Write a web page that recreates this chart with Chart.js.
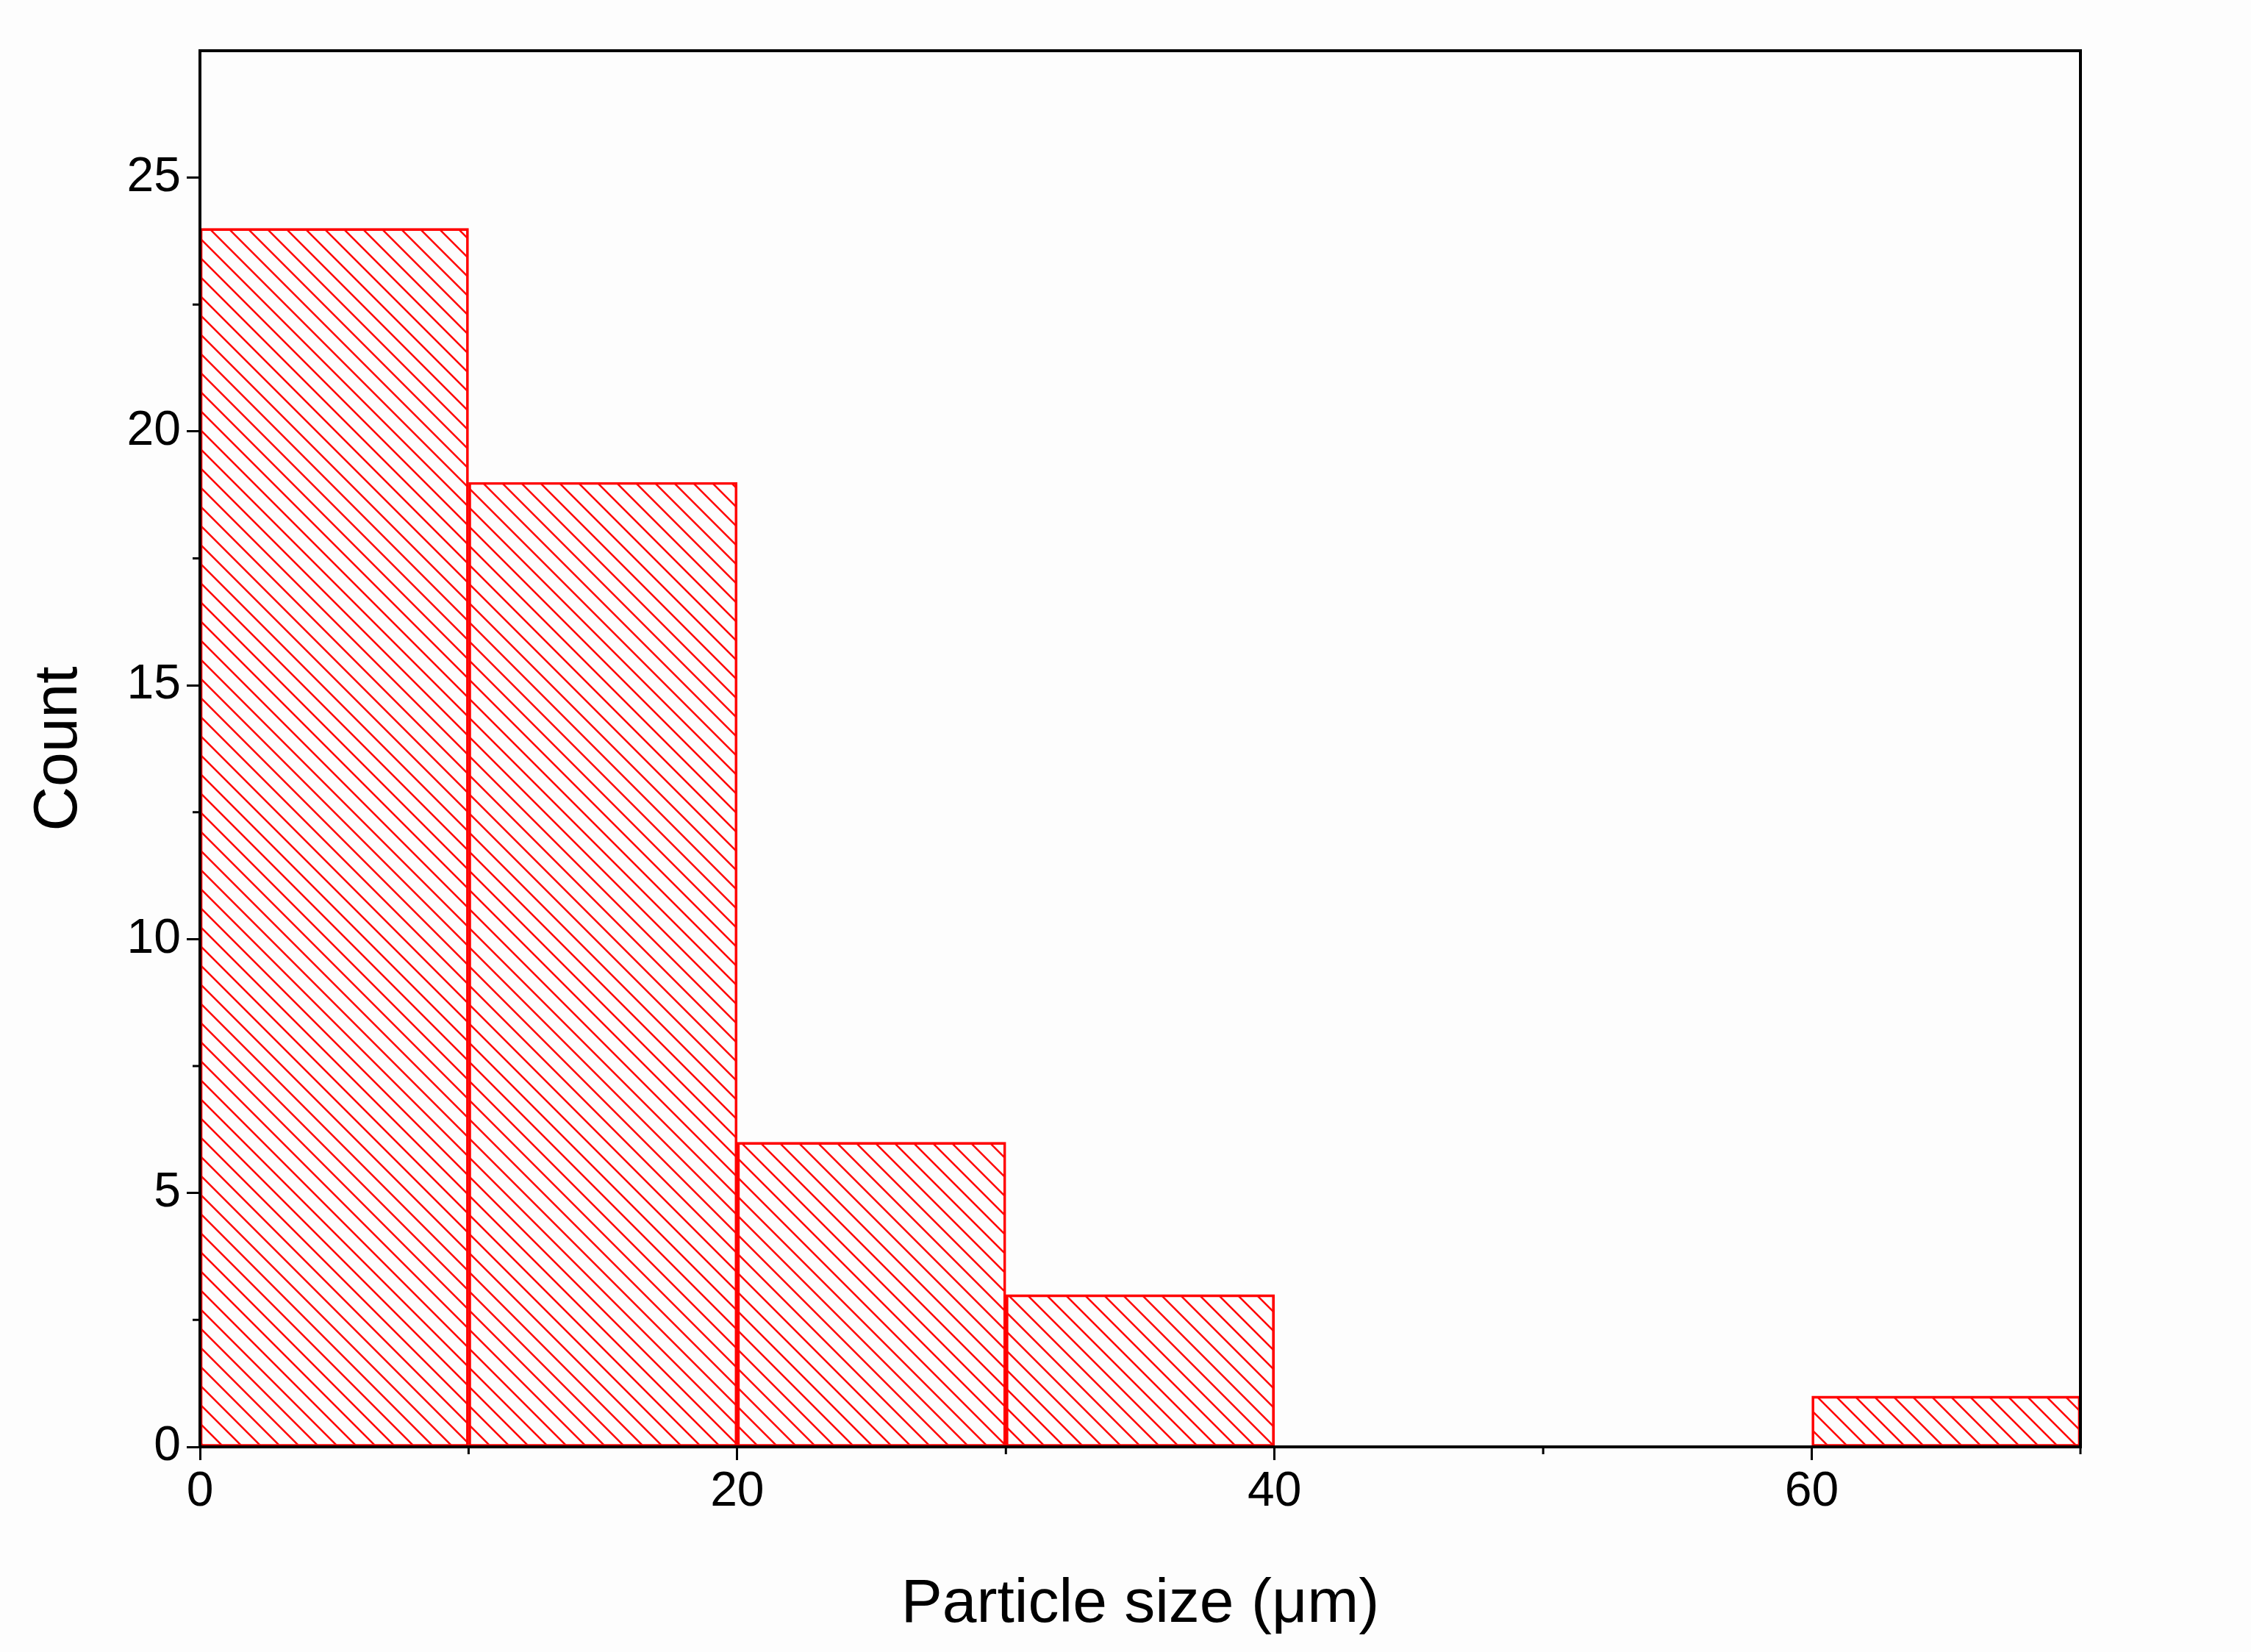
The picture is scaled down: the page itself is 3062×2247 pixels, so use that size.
<!DOCTYPE html>
<html><head><meta charset="utf-8">
<script src="https://cdn.jsdelivr.net/npm/chart.js@4/dist/chart.umd.min.js"></script>
<style>html,body{margin:0;padding:0;background:#fdfdfd}#w{width:3062px;height:2247px}</style>
</head><body><div id="w"><canvas id="c"></canvas></div>
<script>
const binCenters=[5,15,25,35,65];
const counts=[24,19,6,3,1];
const xTicks=[0,20,40,60];
const xMinor=[10,30,50,70];
const yTicks=[0,5,10,15,20,25];
const yMinor=[2.5,7.5,12.5,17.5,22.5];

function hatch(){
  const s=26,p=document.createElement('canvas');p.width=s;p.height=s;
  const g=p.getContext('2d');g.strokeStyle='#ff0000';g.lineWidth=2.5;
  g.beginPath();g.moveTo(-s,-s);g.lineTo(2*s,2*s);g.moveTo(-s,0);g.lineTo(s,2*s);g.moveTo(0,-s);g.lineTo(2*s,s);g.stroke();
  return g.createPattern(p,'repeat');
}
const FONT="'Liberation Sans', Arial, sans-serif";
const frame={id:'frame',afterDraw(ch){
  const {ctx,chartArea:a,scales:{x,y}}=ch;ctx.save();ctx.strokeStyle='#000';ctx.lineWidth=4;
  ctx.strokeRect(a.left,a.top,a.right-a.left,a.bottom-a.top);
  ctx.lineWidth=3;ctx.beginPath();
  xMinor.forEach(v=>{const px=x.getPixelForValue(v);ctx.moveTo(px,a.bottom);ctx.lineTo(px,a.bottom+10);});
  yMinor.forEach(v=>{const py=y.getPixelForValue(v);ctx.moveTo(a.left,py);ctx.lineTo(a.left-10,py);});
  ctx.stroke();ctx.restore();}};
new Chart(document.getElementById('c'),{
  type:'bar',
  data:{datasets:[{data:binCenters.map((c,i)=>({x:c,y:counts[i]})),backgroundColor:hatch(),borderColor:'#ff0000',borderWidth:3,barPercentage:1,categoryPercentage:1,borderSkipped:false}]},
  options:{responsive:true,maintainAspectRatio:false,animation:false,
    layout:{padding:{top:69,right:232,left:0,bottom:0}},
    plugins:{legend:{display:false},tooltip:{enabled:false}},
    scales:{
      x:{type:'linear',min:0,max:70,offset:false,afterFit(s){s.height=279;},
        afterBuildTicks(s){s.ticks=xTicks.map(v=>({value:v}));},
        grid:{drawOnChartArea:false,offset:false,tickLength:18,tickWidth:3,color:'#000'},border:{display:false},
        ticks:{color:'#000',font:{family:FONT,size:66},padding:4,maxRotation:0},
        title:{display:true,text:'Particle size (μm)',color:'#000',font:{family:FONT,size:84},padding:{top:10,bottom:14}}},
      y:{min:0,max:27.5,afterFit(s){s.width=272;},
        afterBuildTicks(s){s.ticks=yTicks.map(v=>({value:v}));},
        grid:{drawOnChartArea:false,tickLength:18,tickWidth:3,color:'#000'},border:{display:false},
        ticks:{color:'#000',font:{family:FONT,size:66},padding:8},
        title:{display:true,text:'Count',color:'#000',font:{family:FONT,size:84},padding:{top:30,bottom:10}}}
    }},
  plugins:[frame]
});
</script></body></html>
